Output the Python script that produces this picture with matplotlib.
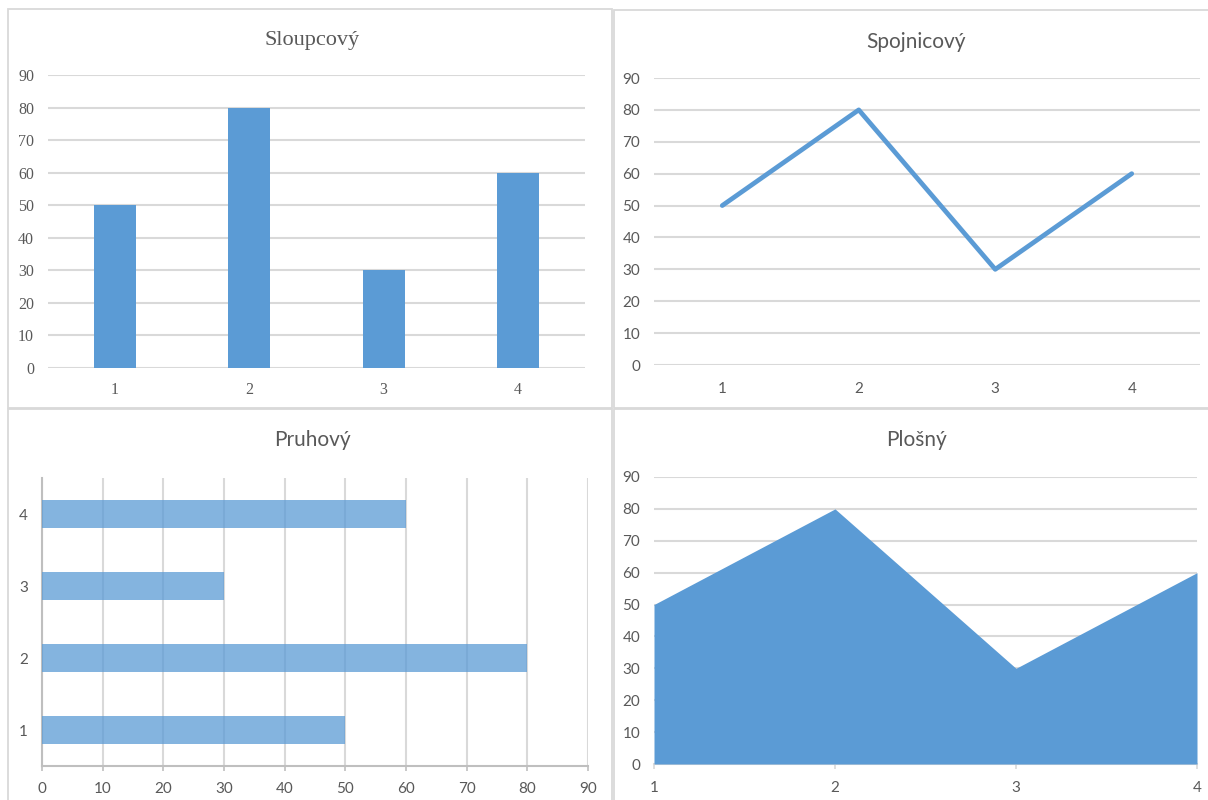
import matplotlib
matplotlib.use("Agg")
import matplotlib.pyplot as plt
from matplotlib.patches import Rectangle

# Data shared by all four charts
categories = ["1", "2", "3", "4"]
values = [50, 80, 30, 60]
value_ticks = [0, 10, 20, 30, 40, 50, 60, 70, 80, 90]
titles = ["Sloupcový", "Spojnicový", "Pruhový", "Plošný"]

BLUE = "#5B9BD5"
GRID = "#D9D9D9"
AXIS = "#BFBFBF"
TEXT = "#595959"
SERIF = ["Liberation Serif", "DejaVu Serif"]
SANS = ["Lato", "DejaVu Sans"]

W, H = 1208, 800
fig = plt.figure(figsize=(W / 100, H / 100), dpi=100)
fig.patch.set_facecolor("white")


def px_axes(x0, y_top, x1, y_bot):
    return fig.add_axes([x0 / W, 1 - y_bot / H, (x1 - x0) / W, (y_bot - y_top) / H])


# chart-area frames
for (x0, y0, x1, y1) in [(8, 9, 612, 408), (614, 10, 1220, 408),
                         (8, 409, 612, 820), (614, 409, 1220, 820)]:
    fig.add_artist(Rectangle((x0 / W, 1 - y1 / H), (x1 - x0) / W, (y1 - y0) / H,
                             transform=fig.transFigure, fill=False,
                             edgecolor=GRID, linewidth=1.3))


def clean(ax):
    for s in ax.spines.values():
        s.set_visible(False)
    ax.set_facecolor("none")


def set_family(ax, fam):
    for lab in ax.get_xticklabels() + ax.get_yticklabels():
        lab.set_fontfamily(fam)


xpos = list(range(len(categories)))

# --- column chart ---
ax1 = px_axes(48, 75, 585, 368)
clean(ax1)
ax1.bar(xpos, values, width=0.313, color=BLUE, zorder=3)
ax1.set_xlim(-0.5, len(categories) - 0.5)
ax1.set_ylim(0, 90)
ax1.set_yticks(value_ticks)
ax1.set_xticks(xpos)
ax1.set_xticklabels(categories)
ax1.yaxis.grid(True, color=GRID, linewidth=1.5, zorder=0)
ax1.set_axisbelow(True)
ax1.tick_params(length=0, colors=TEXT, labelsize=11.5)
ax1.tick_params(axis="y", pad=10)
ax1.tick_params(axis="x", pad=10)
set_family(ax1, SERIF)
fig.text(312 / W, 1 - 41 / H, titles[0], ha="center", va="center",
         fontfamily=SERIF, fontsize=16, color=TEXT)

# --- line chart ---
ax2 = px_axes(654, 78, 1200, 365)
clean(ax2)
ax2.plot(xpos, values, color=BLUE, linewidth=3.4, solid_joinstyle="round",
         solid_capstyle="round", zorder=3)
ax2.set_xlim(-0.5, len(categories) - 0.5)
ax2.set_ylim(0, 90)
ax2.set_yticks(value_ticks)
ax2.set_xticks(xpos)
ax2.set_xticklabels(categories)
ax2.yaxis.grid(True, color=GRID, linewidth=1.5, zorder=0)
ax2.set_axisbelow(True)
ax2.tick_params(length=0, colors=TEXT, labelsize=11)
ax2.tick_params(axis="y", pad=10)
ax2.tick_params(axis="x", pad=12)
set_family(ax2, SANS)
fig.text(916 / W, 1 - 42 / H, titles[1], ha="center", va="center",
         fontfamily=SANS, fontsize=15, color=TEXT)

# --- bar chart ---
ax3 = px_axes(42, 478, 588, 766)
clean(ax3)
ax3.barh(xpos, values, height=0.39, color=BLUE, alpha=0.75, zorder=3)
ax3.set_ylim(-0.5, len(categories) - 0.5)
ax3.set_xlim(0, 90)
ax3.set_xticks(value_ticks)
ax3.set_yticks(xpos)
ax3.set_yticklabels(categories)
ax3.xaxis.grid(True, color=GRID, linewidth=1.5, zorder=0)
ax3.set_axisbelow(True)
ax3.spines["left"].set_visible(True)
ax3.spines["left"].set_color(AXIS)
ax3.spines["left"].set_linewidth(1.5)
ax3.spines["bottom"].set_visible(True)
ax3.spines["bottom"].set_color(AXIS)
ax3.spines["bottom"].set_linewidth(1.5)
ax3.tick_params(axis="y", length=0, colors=TEXT, labelsize=11, pad=10)
ax3.tick_params(axis="x", direction="out", length=3.5, width=1.2, color=AXIS,
                labelcolor=TEXT, labelsize=11, pad=8)
set_family(ax3, SANS)
fig.text(312 / W, 1 - 440 / H, titles[2], ha="center", va="center",
         fontfamily=SANS, fontsize=15, color=TEXT)

# --- area chart ---
ax4 = px_axes(654, 477, 1197, 764)
clean(ax4)
ax4.fill_between(xpos, values, 0, color=BLUE, linewidth=0, zorder=3)
ax4.set_xlim(0, len(categories) - 1)
ax4.set_ylim(0, 90)
ax4.set_yticks(value_ticks)
ax4.set_xticks(xpos)
ax4.set_xticklabels(categories)
ax4.yaxis.grid(True, color=GRID, linewidth=1.5, zorder=0)
ax4.set_axisbelow(True)
ax4.spines["bottom"].set_visible(True)
ax4.spines["bottom"].set_color(GRID)
ax4.spines["bottom"].set_linewidth(1.5)
ax4.tick_params(axis="y", length=0, colors=TEXT, labelsize=11, pad=10)
ax4.tick_params(axis="x", direction="out", length=3.5, width=1.2, color=GRID,
                labelcolor=TEXT, labelsize=11, pad=9)
set_family(ax4, SANS)
fig.text(916 / W, 1 - 440 / H, titles[3], ha="center", va="center",
         fontfamily=SANS, fontsize=15, color=TEXT)

fig.savefig("out.png", dpi=100, facecolor="white")
